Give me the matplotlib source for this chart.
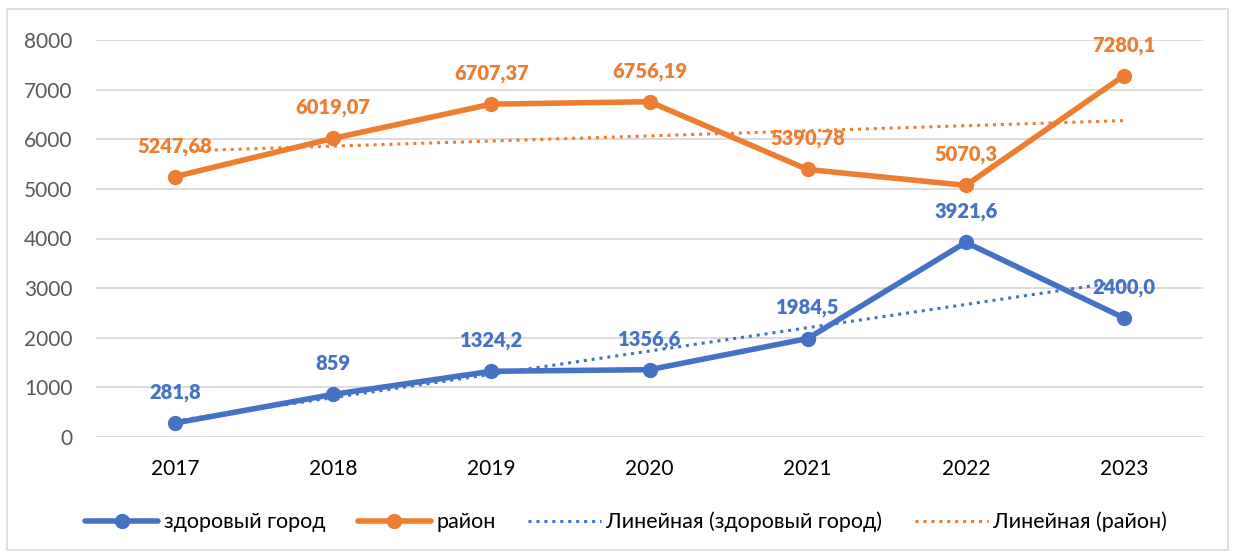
import matplotlib
matplotlib.use("Agg")
import matplotlib.pyplot as plt
from matplotlib.patches import Rectangle
import numpy as np

years = ["2017", "2018", "2019", "2020", "2021", "2022", "2023"]
city = [281.8, 859, 1324.2, 1356.6, 1984.5, 3921.6, 2400.0]
city_labels = ["281,8", "859", "1324,2", "1356,6", "1984,5", "3921,6", "2400,0"]
district = [5247.68, 6019.07, 6707.37, 6756.19, 5390.78, 5070.3, 7280.1]
district_labels = ["5247,68", "6019,07", "6707,37", "6756,19", "5390,78", "5070,3", "7280,1"]
yticks = [0, 1000, 2000, 3000, 4000, 5000, 6000, 7000, 8000]
series_names = ["здоровый город", "район", "Линейная (здоровый город)", "Линейная (район)"]

BLUE = "#4472C4"
ORANGE = "#ED7D31"
FONT = ["Lato", "DejaVu Sans"]
plt.rcParams["font.family"] = FONT

fig = plt.figure(figsize=(12.35, 5.54), dpi=100)
ax = fig.add_axes([96 / 1235, 1 - 437 / 554, (1203 - 96) / 1235, (437 - 40) / 554])

x = np.arange(len(years))

l1, = ax.plot(x, city, color=BLUE, lw=4, marker="o", ms=10, zorder=3, solid_capstyle="round")
l2, = ax.plot(x, district, color=ORANGE, lw=4, marker="o", ms=10, zorder=3, solid_capstyle="round")

pc = np.polyfit(x, city, 1)
pd_ = np.polyfit(x, district, 1)
t1, = ax.plot(x, np.polyval(pc, x), color=BLUE, lw=2.2, ls=(0, (1, 1.6)), zorder=4)
t2, = ax.plot(x, np.polyval(pd_, x), color=ORANGE, lw=2.2, ls=(0, (1, 1.6)), zorder=4)

for xi, v, s in zip(x, city, city_labels):
    ax.annotate(s, (xi, v), xytext=(0, 22), textcoords="offset points", ha="center", va="center",
                color=BLUE, fontsize=14.5, fontweight="heavy", zorder=5)
for xi, v, s in zip(x, district, district_labels):
    ax.annotate(s, (xi, v), xytext=(0, 22), textcoords="offset points", ha="center", va="center",
                color=ORANGE, fontsize=14.5, fontweight="heavy", zorder=5)

ax.set_xlim(-0.5, len(years) - 0.5)
ax.set_ylim(0, 8000)
ax.set_yticks(yticks)
ax.set_yticklabels([str(t) for t in yticks])
ax.set_xticks(x)
ax.set_xticklabels(years)
ax.tick_params(axis="y", length=0, pad=17, labelsize=15, labelcolor="#595959")
ax.tick_params(axis="x", length=0, pad=16, labelsize=15, labelcolor="#000000")
ax.grid(axis="y", color="#D9D9D9", lw=1.3)
ax.set_axisbelow(True)
for sp in ax.spines.values():
    sp.set_visible(False)

fig.legend([l1, l2, t1, t2], series_names, loc="center", bbox_to_anchor=(0.507, 1 - 522 / 554),
           ncol=4, frameon=False, fontsize=15.5, handlelength=3.4, handletextpad=0.25,
           columnspacing=1.5)

fig.patches.append(Rectangle((7 / 1235, 1 - 550 / 554), (1228 - 7) / 1235, (550 - 9) / 554,
                             transform=fig.transFigure, fill=False, edgecolor="#D9D9D9", lw=1.2))

fig.savefig("out.png", dpi=100)
